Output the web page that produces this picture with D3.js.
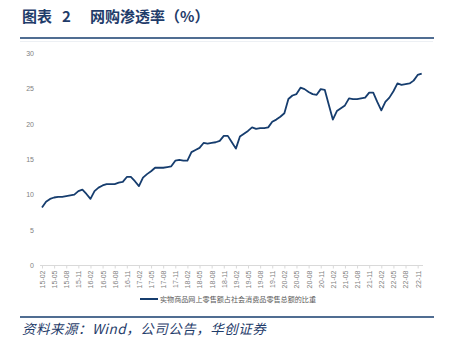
<!DOCTYPE html>
<html>
<head>
<meta charset="utf-8">
<script src="https://cdn.jsdelivr.net/npm/d3@7"></script>
<style>
  body { margin: 0; background: #fff; }
  svg { display: block; }
</style>
</head>
<body>
<div id="chart"></div>
<script>
// 月份 15-02 ~ 22-12
const months = [];
for (let y = 15; y <= 22; y++) {
  for (let m = 1; m <= 12; m++) {
    if (y === 15 && m < 2) continue;
    months.push(`${y}-${String(m).padStart(2, "0")}`);
  }
}

// 实物商品网上零售额占社会消费品零售总额的比重 (%)
const share = [
  8.2, 9.0, 9.4, 9.6, 9.7, 9.7, 9.8, 9.9, 10.0, 10.5, 10.7,
  10.1, 9.4, 10.5, 11.0, 11.3, 11.5, 11.5, 11.5, 11.7, 11.8, 12.5, 12.5,
  11.9, 11.2, 12.4, 12.9, 13.3, 13.8, 13.8, 13.8, 13.9, 14.0, 14.8, 14.9,
  14.8, 14.8, 16.0, 16.3, 16.6, 17.3, 17.2, 17.3, 17.4, 17.6, 18.3, 18.3,
  17.4, 16.5, 18.2, 18.6, 19.0, 19.5, 19.3, 19.4, 19.4, 19.5, 20.3, 20.6,
  21.0, 21.5, 23.5, 24.0, 24.2, 25.1, 24.9, 24.5, 24.2, 24.1, 24.9, 24.8,
  22.7, 20.6, 21.8, 22.2, 22.6, 23.6, 23.5, 23.5, 23.6, 23.7, 24.4, 24.4,
  23.1, 21.9, 23.1, 23.7, 24.6, 25.7, 25.5, 25.6, 25.7, 26.1, 26.9, 27.1
];

const yTicks = [0, 5, 10, 15, 20, 25, 30];
const xTickLabels = months.filter((d, i) => i % 3 === 0 && i < 94);

const W = 455, H = 351;
const navy = "#163d6e";

const svg = d3.select("#chart")
  .append("svg")
  .attr("width", W)
  .attr("height", H);

// 标题
const title = svg.append("text")
  .attr("x", 22)
  .attr("y", 22)
  .attr("fill", "#1f3c6a")
  .attr("font-family", "'Noto Sans CJK SC', sans-serif")
  .attr("font-weight", 700)
  .attr("font-size", "15px");
title.append("tspan").text("图表");
title.append("tspan").attr("x", 62).text("2");
title.append("tspan").attr("x", 90).text("网购渗透率（%）");

svg.append("line")
  .attr("x1", 20).attr("x2", 434)
  .attr("y1", 38).attr("y2", 38)
  .attr("stroke", navy).attr("stroke-width", 1.5);

svg.append("line")
  .attr("x1", 20).attr("x2", 433)
  .attr("y1", 41.5).attr("y2", 41.5)
  .attr("stroke", "#edf0f4").attr("stroke-width", 1);

// 스케일
const x = d3.scalePoint()
  .domain(months)
  .range([42, 421.7]);

const y = d3.scaleLinear()
  .domain([0, 30])
  .range([265.5, 53]);

// y축
const yAxis = svg.append("g")
  .attr("transform", "translate(40,0)")
  .call(d3.axisLeft(y).tickValues(yTicks).tickSize(0).tickPadding(6));
yAxis.select(".domain").remove();
yAxis.selectAll("text")
  .attr("fill", "#7f7f7f")
  .attr("font-family", "'Liberation Sans', Arial, sans-serif")
  .attr("font-size", "7px");

// x축
const xAxis = svg.append("g")
  .attr("transform", "translate(0,265.5)")
  .call(d3.axisBottom(x).tickValues(xTickLabels).tickSize(3).tickSizeOuter(0));
xAxis.select(".domain")
  .attr("d", "M40,0H423")
  .attr("stroke", "#d9d9d9");
xAxis.selectAll(".tick line").attr("stroke", "#d9d9d9");
xAxis.selectAll("text")
  .attr("fill", "#7f7f7f")
  .attr("font-family", "'Liberation Sans', Arial, sans-serif")
  .attr("font-size", "7px")
  .attr("text-anchor", "end")
  .attr("transform", "rotate(-90)")
  .attr("x", -5)
  .attr("y", 0)
  .attr("dy", "0.35em");

// 折线
const line = d3.line()
  .x((d, i) => x(months[i]))
  .y(d => y(d));

svg.append("path")
  .datum(share)
  .attr("fill", "none")
  .attr("stroke", navy)
  .attr("stroke-width", 1.8)
  .attr("stroke-linejoin", "round")
  .attr("d", line);

// 图例
svg.append("line")
  .attr("x1", 140).attr("x2", 158)
  .attr("y1", 299).attr("y2", 299)
  .attr("stroke", navy).attr("stroke-width", 2);
svg.append("text")
  .attr("x", 160)
  .attr("y", 301.5)
  .attr("fill", "#595959")
  .attr("font-family", "'Noto Sans CJK SC', sans-serif")
  .attr("font-size", "7.1px")
  .text("实物商品网上零售额占社会消费品零售总额的比重");

// 来源
svg.append("line")
  .attr("x1", 20).attr("x2", 434)
  .attr("y1", 317).attr("y2", 317)
  .attr("stroke", navy).attr("stroke-width", 1.5);
svg.append("text")
  .attr("x", 22)
  .attr("y", 334)
  .attr("fill", "#1f3c6a")
  .attr("font-family", "'Noto Sans CJK SC', sans-serif")
  .attr("font-style", "italic")
  .attr("font-size", "13.5px")
  .attr("letter-spacing", "0.5px")
  .text("资料来源：Wind，公司公告，华创证券");
</script>
</body>
</html>
